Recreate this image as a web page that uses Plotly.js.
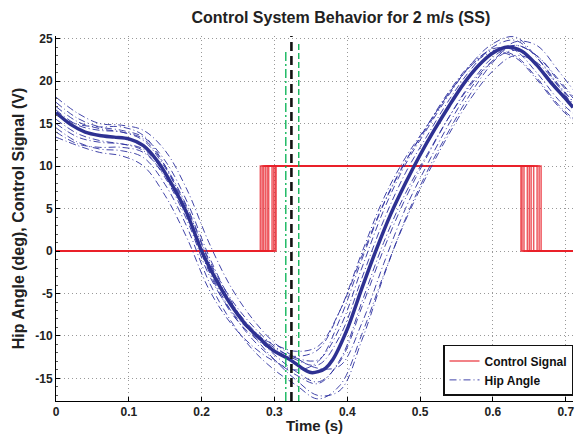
<!DOCTYPE html>
<html>
<head>
<meta charset="utf-8">
<script src="https://cdn.plot.ly/plotly-3.0.1.min.js"></script>
<style>html,body{margin:0;padding:0;background:#fff}#chart{width:575px;height:434px}</style>
</head>
<body>
<div id="chart"></div>
<script>
// ---- data ----
const timeGrid = [0, 0.03, 0.06, 0.09, 0.12, 0.15, 0.18, 0.21, 0.24, 0.27, 0.30, 0.33, 0.36, 0.39, 0.42, 0.45, 0.48, 0.51, 0.54, 0.57, 0.60, 0.63, 0.66, 0.69, 0.71];
const meanTime = [0, 0.02, 0.04, 0.06, 0.08, 0.10, 0.12, 0.14, 0.16, 0.18, 0.20, 0.22, 0.24, 0.26, 0.28, 0.30, 0.32, 0.34, 0.35, 0.36, 0.37, 0.38, 0.40, 0.42, 0.44, 0.46, 0.48, 0.50, 0.52, 0.54, 0.56, 0.58, 0.60, 0.62, 0.64, 0.66, 0.68, 0.70, 0.71];
const meanHip = [16.3, 14.9, 14.0, 13.6, 13.4, 13.2, 12.4, 10.5, 7.7, 4.4, 0.0, -3.4, -6.3, -8.6, -10.3, -11.8, -12.7, -13.9, -14.3, -14.2, -13.8, -12.8, -9.2, -4.4, 0.2, 4.4, 8.0, 11.3, 14.3, 17.1, 19.7, 21.8, 23.3, 24.0, 23.5, 21.9, 19.8, 17.9, 16.9];
const hipTrial1 = [18.1, 16.2, 15.0, 14.8, 14.2, 11.8, 7.2, 1.0, -4.2, -8.0, -10.8, -12.6, -13.8, -13.5, -8.5, -1.5, 5.0, 10.2, 15.0, 19.2, 22.4, 24.2, 23.0, 20.0, 18.0];
const hipTrial2 = [13.4, 12.4, 11.6, 11.2, 10.0, 6.5, 1.5, -4.5, -8.5, -11.2, -13.0, -14.0, -13.0, -8.0, -1.0, 5.5, 10.5, 14.8, 18.8, 22.0, 23.6, 23.0, 20.4, 17.2, 15.6];
const hipTrial3 = [17.5, 15.6, 14.6, 14.2, 13.4, 10.6, 5.8, -0.6, -5.8, -9.8, -12.8, -15.2, -17.0, -16.4, -10.5, -3.0, 3.8, 9.4, 14.2, 18.6, 22.2, 24.6, 24.2, 21.2, 19.0];
const hipTrial4 = [15.0, 13.4, 12.8, 12.6, 11.8, 8.6, 3.6, -2.8, -7.0, -9.6, -11.0, -11.8, -11.2, -7.0, -0.6, 5.6, 10.6, 14.6, 18.6, 21.8, 23.8, 23.6, 21.0, 17.8, 16.2];
const hipTrial5 = [17.0, 15.2, 14.4, 14.0, 13.2, 10.0, 5.2, -1.0, -5.6, -8.8, -11.2, -12.8, -13.4, -10.0, -3.2, 3.6, 9.2, 13.6, 17.8, 21.4, 24.0, 24.8, 22.8, 19.6, 17.6];
const hipTrial6 = [14.5, 12.8, 12.0, 11.8, 11.0, 7.8, 2.8, -3.6, -8.2, -11.6, -14.0, -15.8, -17.4, -15.8, -9.8, -2.8, 3.6, 9.0, 13.8, 18.0, 21.2, 23.0, 22.2, 19.4, 17.6];
const hipTrial7 = [16.6, 14.8, 14.2, 14.0, 13.0, 9.8, 5.0, -1.2, -6.0, -9.2, -11.4, -12.6, -12.8, -9.0, -2.0, 4.8, 10.2, 14.4, 18.4, 22.0, 24.4, 25.2, 22.8, 19.4, 17.2];
const hipTrial8 = [14.0, 12.6, 12.2, 12.2, 11.6, 8.8, 4.0, -2.2, -7.0, -10.4, -12.8, -14.6, -15.6, -12.8, -6.0, 1.0, 6.8, 11.4, 15.8, 19.6, 22.4, 23.6, 22.0, 19.0, 17.4];
const hipTrial9 = [16.0, 14.9, 14.6, 14.6, 13.6, 10.0, 4.4, -2.4, -7.2, -10.0, -11.8, -12.4, -11.6, -7.0, -0.2, 6.2, 11.0, 14.8, 18.6, 21.8, 23.4, 22.8, 20.2, 17.0, 15.4];
const hipTrial10 = [15.5, 13.8, 13.0, 12.6, 12.0, 9.0, 4.4, -1.6, -6.2, -9.6, -12.2, -14.2, -15.4, -13.0, -6.6, 0.2, 6.2, 11.2, 15.8, 19.8, 22.8, 24.2, 23.0, 20.2, 18.2];
const riseTimes = [0.2806, 0.2830, 0.2850, 0.2875, 0.2900, 0.2921, 0.2967, 0.2990, 0.3010, 0.3023];
const fallTimes = [0.6385, 0.6400, 0.6427, 0.6473, 0.6500, 0.6525, 0.6560, 0.6607, 0.6635, 0.6662];
const signalLow = 0;
const signalHigh = 10;
const eventTimes = [0.3156, 0.3233, 0.3334];   // lower bound, event, upper bound
const eventTops = [23.6, 25.3, 24.4];
const xTicks = [0, 0.1, 0.2, 0.3, 0.4, 0.5, 0.6, 0.7];
const yTicks = [-15, -10, -5, 0, 5, 10, 15, 20, 25];
const xRange = [0, 0.71];
const yRange = [-17.65, 25.3];

// ---- traces ----
const RED = '#e8202a';
const NAVY = '#2e3192';
const FONT = 'Liberation Sans, Arial, sans-serif';
const traces = [];
riseTimes.forEach((r, i) => {
  const f = fallTimes[i];
  traces.push({
    x: [xRange[0], r, r, f, f, xRange[1]],
    y: [signalLow, signalLow, signalHigh, signalHigh, signalLow, signalLow],
    mode: 'lines', name: 'Control Signal',
    line: {color: RED, width: 1.5},
    opacity: 0.75,
    showlegend: i === 0, legendrank: 1, hoverinfo: 'skip'
  });
});
const trials = [hipTrial1, hipTrial2, hipTrial3, hipTrial4, hipTrial5, hipTrial6, hipTrial7, hipTrial8, hipTrial9, hipTrial10];
trials.forEach((tr, i) => {
  traces.push({
    x: timeGrid, y: tr, mode: 'lines', name: 'Hip Angle',
    line: {color: 'rgba(46,49,160,0.9)', width: 1, dash: '7px,3px,1px,3px', shape: 'spline', smoothing: 1},
    showlegend: i === 0, legendrank: 2, hoverinfo: 'skip'
  });
});
traces.push({
  x: meanTime, y: meanHip, mode: 'lines', showlegend: false,
  line: {color: NAVY, width: 3.5, shape: 'spline', smoothing: 0.8}, hoverinfo: 'skip'
});
const evStyles = [
  {color: '#00b050', width: 1.3, dash: '9px,3px,2px,3px'},
  {color: '#111111', width: 2.6, dash: '9px,5px'},
  {color: '#00b050', width: 1.3, dash: '6px,3px'}
];
eventTimes.forEach((t, i) => {
  traces.push({
    x: [t, t], y: [yRange[0], eventTops[i]], mode: 'lines', showlegend: false,
    line: evStyles[i], hoverinfo: 'skip'
  });
});

const tickFont = {family: FONT, size: 12, color: '#222', weight: 'bold'};
const layout = {
  width: 575, height: 434,
  margin: {l: 56, r: 2, t: 36, b: 33},
  paper_bgcolor: '#fff', plot_bgcolor: '#fff',
  showlegend: true,
  title: {text: 'Control System Behavior for 2 m/s (SS)', x: 0.551, xref: 'paper', xanchor: 'center', y: 0.96, yanchor: 'middle',
          font: {family: FONT, size: 16, color: '#222', weight: 'bold'}},
  xaxis: {
    range: xRange, tickvals: xTicks, ticktext: xTicks.map(String),
    showline: true, linecolor: '#000', linewidth: 1, mirror: false,
    ticks: 'inside', ticklen: 4, tickcolor: '#000',
    showgrid: true, gridcolor: '#999', griddash: '1px,3px', gridwidth: 1,
    zeroline: false, tickfont: tickFont,
    title: {text: 'Time (s)', standoff: 1, font: {family: FONT, size: 15, color: '#222', weight: 'bold'}}
  },
  yaxis: {
    range: yRange, tickvals: yTicks, ticktext: yTicks.map(String),
    showline: true, linecolor: '#000', linewidth: 1, mirror: false,
    ticks: 'inside', ticklen: 4, tickcolor: '#000',
    minor: {ticks: 'inside', ticklen: 2, dtick: 1, tickcolor: '#555', showgrid: false},
    showgrid: true, gridcolor: '#999', griddash: '1px,3px', gridwidth: 1,
    zeroline: false, tickfont: tickFont,
    title: {text: 'Hip Angle (deg), Control Signal (V)', standoff: 6, font: {family: FONT, size: 16, color: '#222', weight: 'bold'}}
  },
  legend: {
    x: 1, y: 0.014, xanchor: 'right', yanchor: 'bottom',
    bgcolor: '#fff', bordercolor: '#111', borderwidth: 1.5,
    font: {family: FONT, size: 12, color: '#111', weight: 'bold'},
    tracegroupgap: 0, itemwidth: 30
  }
};
Plotly.newPlot('chart', traces, layout, {staticPlot: true, displayModeBar: false});
</script>
</body>
</html>
